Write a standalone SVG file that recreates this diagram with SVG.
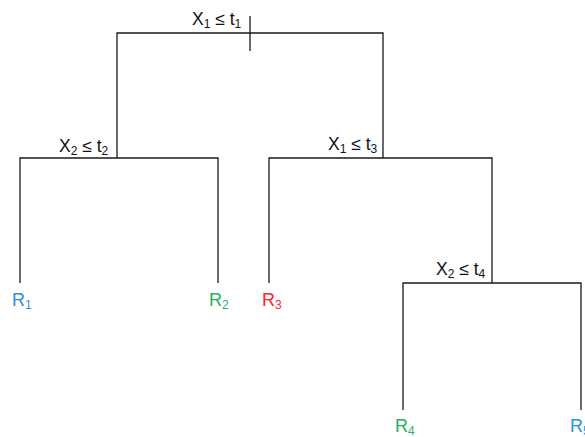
<svg xmlns="http://www.w3.org/2000/svg" width="585" height="437" viewBox="0 0 585 437">
<style>
  .edge { stroke: #1a1a1a; stroke-width: 1.3; fill: none; }
  .lbl { font-family: "Liberation Sans", "Open Sans", sans-serif; font-size: 17.5px; fill: #111; }
  .leaf { font-family: "Liberation Sans", "Open Sans", sans-serif; font-size: 18px; }
  .sub { font-size: 12px; }
  .blue { fill: #2e8fdc; }
  .green { fill: #1fb35c; }
  .red { fill: #ff2030; }
</style>
<rect width="585" height="437" fill="#ffffff"/>
<g id="connectors">
  <path class="edge" d="M117,158 V33 H383 V158"/>
  <path class="edge" d="M250,16 V51"/>
  <path class="edge" d="M20,283 V158 H218 V283"/>
  <path class="edge" d="M269,283 V158 H492 V283"/>
  <path class="edge" d="M403,410 V283 H581 V410"/>
</g>
<g id="split1">
  <text class="lbl" x="192" y="25">X<tspan class="sub" dy="3">1</tspan><tspan dy="-3"> ≤ t</tspan><tspan class="sub" dy="3">1</tspan></text>
</g>
<g id="split2">
  <text class="lbl" x="59" y="152">X<tspan class="sub" dy="3">2</tspan><tspan dy="-3"> ≤ t</tspan><tspan class="sub" dy="3">2</tspan></text>
</g>
<g id="split3">
  <text class="lbl" x="328" y="150">X<tspan class="sub" dy="3">1</tspan><tspan dy="-3"> ≤ t</tspan><tspan class="sub" dy="3">3</tspan></text>
</g>
<g id="split4">
  <text class="lbl" x="436" y="275">X<tspan class="sub" dy="3">2</tspan><tspan dy="-3"> ≤ t</tspan><tspan class="sub" dy="3">4</tspan></text>
</g>
<g id="leafR1">
  <text class="leaf blue" x="12" y="306">R<tspan class="sub" dy="3">1</tspan></text>
</g>
<g id="leafR2">
  <text class="leaf green" x="209" y="306">R<tspan class="sub" dy="3">2</tspan></text>
</g>
<g id="leafR3">
  <text class="leaf red" x="262" y="306">R<tspan class="sub" dy="3">3</tspan></text>
</g>
<g id="leafR4">
  <text class="leaf green" x="395" y="432">R<tspan class="sub" dy="3">4</tspan></text>
</g>
<g id="leafR5">
  <text class="leaf blue" x="570" y="432">R<tspan class="sub" dy="3">5</tspan></text>
</g>
</svg>
